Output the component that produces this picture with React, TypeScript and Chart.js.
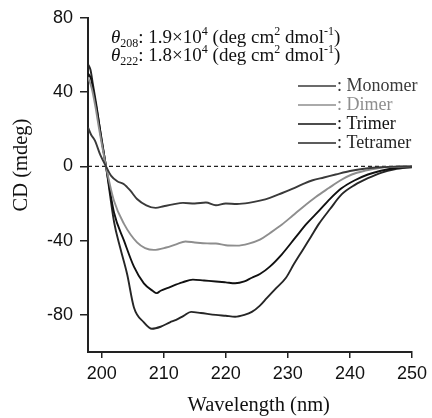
import React, { useEffect, useRef } from "react";
import { Chart, registerables } from "chart.js";

Chart.register(...registerables);

const monomerWl = [197.8, 198.3, 198.9, 199.8, 200.7, 201.5, 202.5, 203.6, 204.6, 205.7, 207.2, 208.7, 210, 211.5, 213.1, 215, 216.8, 218.4, 220, 221.8, 223.7, 225.5, 227.1, 229, 230.8, 232.4, 234, 235.8, 237.7, 240, 242.9, 245.5, 248, 250];
const monomerCd = [21, 17, 14, 6, 0, -5, -8, -9.6, -13, -17.6, -21, -22.4, -21.5, -20.5, -19.7, -20, -19.5, -21, -20, -20.3, -19.7, -18.5, -17, -14.5, -12, -9.6, -7.5, -6, -4.4, -2.5, -1, -0.4, 0, 0];

const dimerWl = [197.8, 198.4, 199, 199.6, 200.7, 202, 203.6, 205.7, 207, 208.4, 210.4, 212, 213.5, 215, 217, 218.4, 220, 221.8, 223.7, 225.5, 227.1, 229, 230.8, 232.4, 234.5, 236.6, 238.5, 240.3, 242.5, 244.5, 247, 250];
const dimerCd = [48, 42, 32, 20, 0, -18.7, -31, -41, -44, -45, -43.7, -42, -40.5, -41, -41.5, -41.6, -42.5, -42.7, -41.6, -39.5, -36, -31.5, -26.5, -22, -16.5, -11.7, -7.5, -4.4, -2.3, -1, -0.3, 0];

const trimerWl = [197.8, 198.3, 198.8, 199.4, 200.7, 202, 203.6, 205.2, 206.8, 208.2, 208.9, 209.5, 211, 213, 214.7, 216.5, 218.4, 220, 221.5, 223, 224.2, 225.5, 227.1, 229, 231.3, 233, 235, 236.8, 238.7, 240.8, 242.9, 245, 247.2, 250];
const trimerCd = [50, 47, 38, 27, 0, -25, -40, -54, -63, -67, -68.3, -67, -65, -62.5, -61, -61.5, -62, -62.5, -63, -62, -60, -58, -54, -47.5, -38, -31, -24, -17.5, -11.7, -7.5, -4.4, -2.4, -1, -0.2];

const tetramerWl = [197.8, 198.2, 198.6, 199.2, 199.8, 200.7, 202, 203, 204.1, 205.2, 206.8, 208.1, 209.5, 211, 212, 213.2, 214.4, 216, 218.4, 220, 221.5, 223, 224.2, 225.5, 226.6, 228, 229.7, 231, 232.4, 233.7, 235, 236.8, 238.7, 240.8, 242.9, 245, 247.2, 250];
const tetramerCd = [55, 52, 44, 32, 18, 0, -30, -44, -58, -76, -84, -87.5, -86.4, -84, -82.7, -80.5, -78.4, -79, -80, -80.5, -81, -80, -78.4, -75, -71, -66, -60, -52.5, -45, -38, -31, -23, -15, -10, -6.4, -3.5, -1.6, -0.5];

const seriesNames = ["Monomer", "Dimer", "Trimer", "Tetramer"];
const seriesColors = ["#3a3a3a", "#8e8e8e", "#111111", "#262626"];
const xTicks = [200, 210, 220, 230, 240, 250];
const yTicks = [-80, -40, 0, 40, 80];

const SERIF = "'Liberation Serif', 'Times New Roman', serif";
const SANS = "'Liberation Sans', Arial, sans-serif";

type Part = { t: string; size: number; dy?: number; italic?: boolean };

function drawRich(ctx: CanvasRenderingContext2D, x: number, y: number, parts: Part[]) {
  let cx = x;
  for (const p of parts) {
    ctx.font = `${p.italic ? "italic " : ""}${p.size}px ${SERIF}`;
    ctx.fillText(p.t, cx, y + (p.dy || 0));
    cx += ctx.measureText(p.t).width;
  }
}

const extrasPlugin = {
  id: "extras",
  beforeDatasetsDraw(chart: any) {
    const { ctx, chartArea, scales } = chart;
    const y0 = scales.y.getPixelForValue(0);
    ctx.save();
    ctx.strokeStyle = "#222";
    ctx.lineWidth = 1.3;
    ctx.setLineDash([4, 3]);
    ctx.beginPath();
    ctx.moveTo(chartArea.left, y0);
    ctx.lineTo(chartArea.right, y0);
    ctx.stroke();
    ctx.restore();
  },
  afterDraw(chart: any) {
    const { ctx, chartArea } = chart;
    ctx.save();
    ctx.fillStyle = "#111";
    ctx.textBaseline = "alphabetic";
    ctx.textAlign = "left";
    const L = 19;
    const S = 12;
    const line = (sub: string, val: string, y: number) =>
      drawRich(ctx, 111, y, [
        { t: "θ", size: L, italic: true },
        { t: sub, size: S, dy: 4 },
        { t: ": " + val + "×10", size: L },
        { t: "4", size: S, dy: -8 },
        { t: " (deg cm", size: L },
        { t: "2", size: S, dy: -8 },
        { t: " dmol", size: L },
        { t: "-1", size: S, dy: -8 },
        { t: ")", size: L },
      ]);
    line("208", "1.9", 43);
    line("222", "1.8", 61);

    // legend
    const rows = [86, 105, 124, 143];
    ctx.textBaseline = "middle";
    ctx.font = `18px ${SERIF}`;
    seriesNames.forEach((name, i) => {
      const y = rows[i];
      ctx.strokeStyle = seriesColors[i];
      ctx.lineWidth = 1.5;
      ctx.setLineDash([]);
      ctx.beginPath();
      ctx.moveTo(298, y);
      ctx.lineTo(336, y);
      ctx.stroke();
      ctx.fillStyle = seriesColors[i];
      ctx.fillText(": " + name, 337, y);
    });

    // axis titles
    ctx.fillStyle = "#111";
    ctx.font = `20.5px ${SERIF}`;
    ctx.textAlign = "center";
    ctx.textBaseline = "middle";
    ctx.fillText("Wavelength (nm)", chartArea.left + 0.527 * (chartArea.right - chartArea.left), 406);
    ctx.translate(22, 165);
    ctx.rotate(-Math.PI / 2);
    ctx.fillText("CD (mdeg)", 0, 0);
    ctx.restore();
  },
};

export default function App() {
  const canvasRef = useRef<HTMLCanvasElement | null>(null);

  useEffect(() => {
    document.body.style.margin = "0";
    const canvas = canvasRef.current;
    if (!canvas) return;
    const mk = (wl: number[], cd: number[]) => wl.map((x, i) => ({ x, y: cd[i] }));
    const allData = [mk(monomerWl, monomerCd), mk(dimerWl, dimerCd), mk(trimerWl, trimerCd), mk(tetramerWl, tetramerCd)];
    const chart = new Chart(canvas, {
      type: "line",
      data: {
        datasets: allData.map((d, i) => ({
          label: seriesNames[i],
          data: d,
          borderColor: seriesColors[i],
          borderWidth: 1.9,
          pointRadius: 0,
          fill: false,
          cubicInterpolationMode: "monotone" as const,
        })),
      },
      options: {
        animation: false,
        responsive: false,
        maintainAspectRatio: false,
        layout: { padding: { left: 0, right: 14, top: 15, bottom: 0 } },
        plugins: { legend: { display: false }, tooltip: { enabled: false } },
        scales: {
          x: {
            type: "linear",
            min: 197.8,
            max: 250,
            afterBuildTicks: (s: any) => {
              s.ticks = xTicks.map((v) => ({ value: v }));
            },
            afterFit: (s: any) => {
              s.height = 66;
            },
            grid: { drawOnChartArea: false, drawTicks: true, tickLength: 6, color: "#222", lineWidth: 1.5 },
            border: { display: true, color: "#222", width: 2 },
            ticks: { color: "#111", font: { family: SANS, size: 18 }, padding: 5, maxRotation: 0 },
          },
          y: {
            type: "linear",
            min: -100,
            max: 80,
            afterBuildTicks: (s: any) => {
              s.ticks = yTicks.map((v) => ({ value: v }));
            },
            afterFit: (s: any) => {
              s.width = 88;
            },
            grid: { drawOnChartArea: false, drawTicks: true, tickLength: 8, color: "#222", lineWidth: 1.5 },
            border: { display: true, color: "#222", width: 2 },
            ticks: { color: "#111", font: { family: SANS, size: 18 }, padding: 7 },
          },
        },
      },
      plugins: [extrasPlugin],
    });
    return () => chart.destroy();
  }, []);

  return (
    <div style={{ width: 432, height: 418, background: "#fff" }}>
      <canvas ref={canvasRef} width={432} height={418} style={{ display: "block" }} />
    </div>
  );
}
